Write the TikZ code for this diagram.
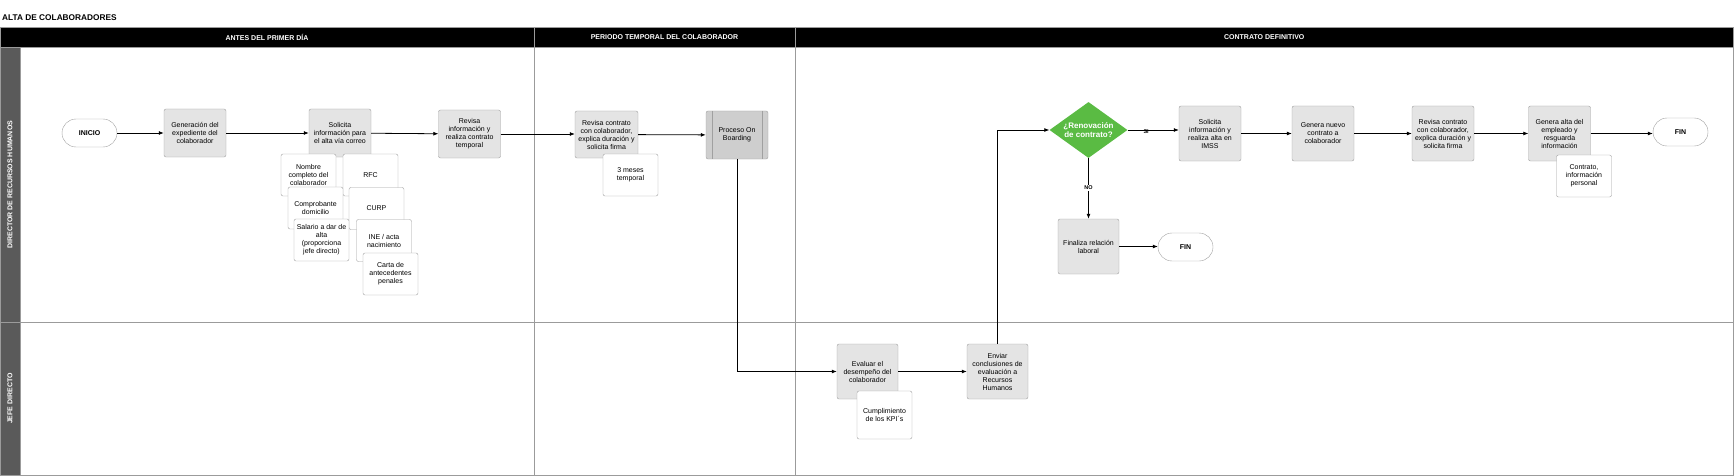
\documentclass[tikz,border=0pt]{standalone}
\usepackage{fontspec}
\setmainfont{Liberation Sans}
\usepackage{tikz}
\usetikzlibrary{arrows.meta,positioning,shapes.geometric}
\definecolor{ProcGray}{RGB}{228,228,228}
\definecolor{OnbGray}{RGB}{206,206,206}
\definecolor{EdgeGray}{RGB}{160,160,160}
\definecolor{LaneGray}{RGB}{90,90,90}
\definecolor{GridGray}{RGB}{155,155,155}
\definecolor{RenovGreen}{RGB}{90,187,67}

\begin{document}
\begin{tikzpicture}[x=1pt,y=-1pt,>={Latex[length=5pt,width=4pt]},
    proc/.style={draw=EdgeGray,fill=ProcGray,rounded corners=2pt,minimum width=62pt,minimum height=48pt,
      align=center,inner sep=1pt,font=\fontsize{7}{8}\selectfont},
    nota/.style={draw=EdgeGray,fill=white,rounded corners=2pt,minimum width=55pt,minimum height=42pt,
      align=center,inner sep=1pt,font=\fontsize{7}{8}\selectfont},
    term/.style={draw=EdgeGray,fill=white,rounded corners=14pt,minimum width=55pt,minimum height=28pt,
      font=\bfseries\fontsize{7}{8}\selectfont},
    hdr/.style={draw=GridGray,fill=black,text=white,minimum height=20pt,font=\bfseries\fontsize{7}{8}\selectfont},
    lane/.style={draw=GridGray,fill=LaneGray,text=white,rotate=90,minimum height=20pt,font=\bfseries\fontsize{7}{8}\selectfont},
    grid/.style={GridGray,line width=0.8pt},
    flow/.style={->,line width=0.8pt},
    tag/.style={font=\bfseries\fontsize{5.5}{6}\selectfont,inner sep=1pt}]
  \useasboundingbox (0,0) rectangle (1734,476);
  \node[anchor=west,inner sep=0pt,font=\bfseries\fontsize{8.3}{9}\selectfont] (titulo) at (2,18) {ALTA DE COLABORADORES};
  % carriles y fases
  \draw[grid] (0,47.5) rectangle (1733.5,475);
  \draw[grid] (0,322)--(1733.5,322);
  \draw[grid] (534,47.5)--(534,475);
  \draw[grid] (795,47.5)--(795,475);
  \node[hdr,minimum width=534pt] (fase1) at (267,37.5) {ANTES DEL PRIMER DÍA};
  \node[hdr,minimum width=261pt] (fase2) at (664.5,37.5) {PERIODO TEMPORAL DEL COLABORADOR};
  \node[hdr,minimum width=938.5pt] (fase3) at (1264.25,37.5) {CONTRATO DEFINITIVO};
  \node[lane,minimum width=274.5pt] (rrhh) at (10,184.75) {DIRECTOR DE RECURSOS HUMANOS};
  \node[lane,minimum width=153pt] (jefe) at (10,398.5) {JEFE DIRECTO};

  % antes del primer dia
  \node[term] (inicio) at (89.5,133) {INICIO};
  \node[proc] (gen) at (195,133) {Generación del\\expediente del\\colaborador};
  \node[proc] (sol) at (340,133) {Solicita\\información para\\el alta vía correo};
  \node[proc] (rev) at (469.5,134) {Revisa\\información y\\realiza contrato\\temporal};
  \foreach \nx/\ny/\nm/\txt in {308.5/175/nom/{Nombre\\completo del\\colaborador},370.5/175/rfc/{RFC},
      315.5/208/dom/{Comprobante\\domicilio},376.5/208.5/curp/{CURP},
      321.5/240/sal/{Salario a dar de\\alta\\(proporciona\\jefe directo)},384/240.5/ine/{INE / acta\\nacimiento},
      390.5/274/penal/{Carta de\\antecedentes\\penales}}{
    \node[nota] (\nm) at (\nx,\ny) {\txt};}

  % periodo temporal
  \node[proc,minimum width=63pt,minimum height=47pt] (rcon) at (606.5,134.5) {Revisa contrato\\con colaborador,\\explica duración y\\solicita firma};
  \node[nota] (meses) at (630.5,175) {3 meses\\temporal};
  \node[proc,fill=OnbGray] (onb) at (737,135) {Proceso On\\Boarding};
  \draw[EdgeGray] ([xshift=6pt]onb.north west)--([xshift=6pt]onb.south west)
    ([xshift=-6pt]onb.north east)--([xshift=-6pt]onb.south east);

  % jefe directo
  \node[proc,minimum width=61pt,minimum height=55pt] (eval) at (867.5,371.5) {Evaluar el\\desempeño del\\colaborador};
  \node[nota,minimum height=48pt] (kpi) at (884.5,415) {Cumplimiento\\de los KPI´s};
  \node[proc,minimum width=61pt,minimum height=55pt] (env) at (997.5,371.5) {Enviar\\conclusiones de\\evaluación a\\Recursos\\Humanos};

  % contrato definitivo
  \node[diamond,fill=RenovGreen,text=white,inner sep=0pt,aspect=1.4,minimum width=78pt,minimum height=56pt,
    align=center,font=\bfseries\fontsize{8}{9.5}\selectfont] (dec) at (1088.5,130) {¿Renovación\\de contrato?};
  \node[proc,minimum height=55pt] (imss) at (1210,133.5) {Solicita\\información y\\realiza alta en\\IMSS};
  \node[proc,minimum height=55pt] (gnc) at (1323,133.5) {Genera nuevo\\contrato a\\colaborador};
  \node[proc,minimum height=55pt] (rc2) at (1443,133.5) {Revisa contrato\\con colaborador,\\explica duración y\\solicita firma};
  \node[proc,minimum height=55pt] (gal) at (1559.5,133.5) {Genera alta del\\empleado y\\resguarda\\información};
  \node[nota] (datos) at (1584,176) {Contrato,\\información\\personal};
  \node[term] (fin) at (1680.5,132) {FIN};
  \node[proc,minimum width=61pt,minimum height=55pt] (fza) at (1088.5,246.5) {Finaliza relación\\laboral};
  \node[term] (fin2) at (1185.5,247) {FIN};

  % flujo
  \draw[flow] (inicio)--(gen);
  \draw[flow] (gen)--(sol);
  \draw[flow] (sol)--(rev);
  \draw[flow] (rev.east)--(rev.east-|rcon.west);
  \draw[flow] (rcon)--(onb);
  \draw[flow] (onb.south)|-(eval.west);
  \draw[flow] (eval)--(env);
  \draw[flow] (env.north)|-(dec.west);
  \draw[flow] (dec.east)--(dec.east-|imss.west) node[tag,pos=0.36,yshift=-1.5pt]{SI};
  \draw[flow] (imss)--(gnc);
  \draw[flow] (gnc)--(rc2);
  \draw[flow] (rc2)--(gal);
  \draw[flow] (gal.east)--(gal.east-|fin.west);
  \draw[flow] (dec)--(fza) node[tag,pos=0.49,fill=white]{NO};
  \draw[flow] (fza.east)--(fza.east-|fin2.west);
\end{tikzpicture}
\end{document}
